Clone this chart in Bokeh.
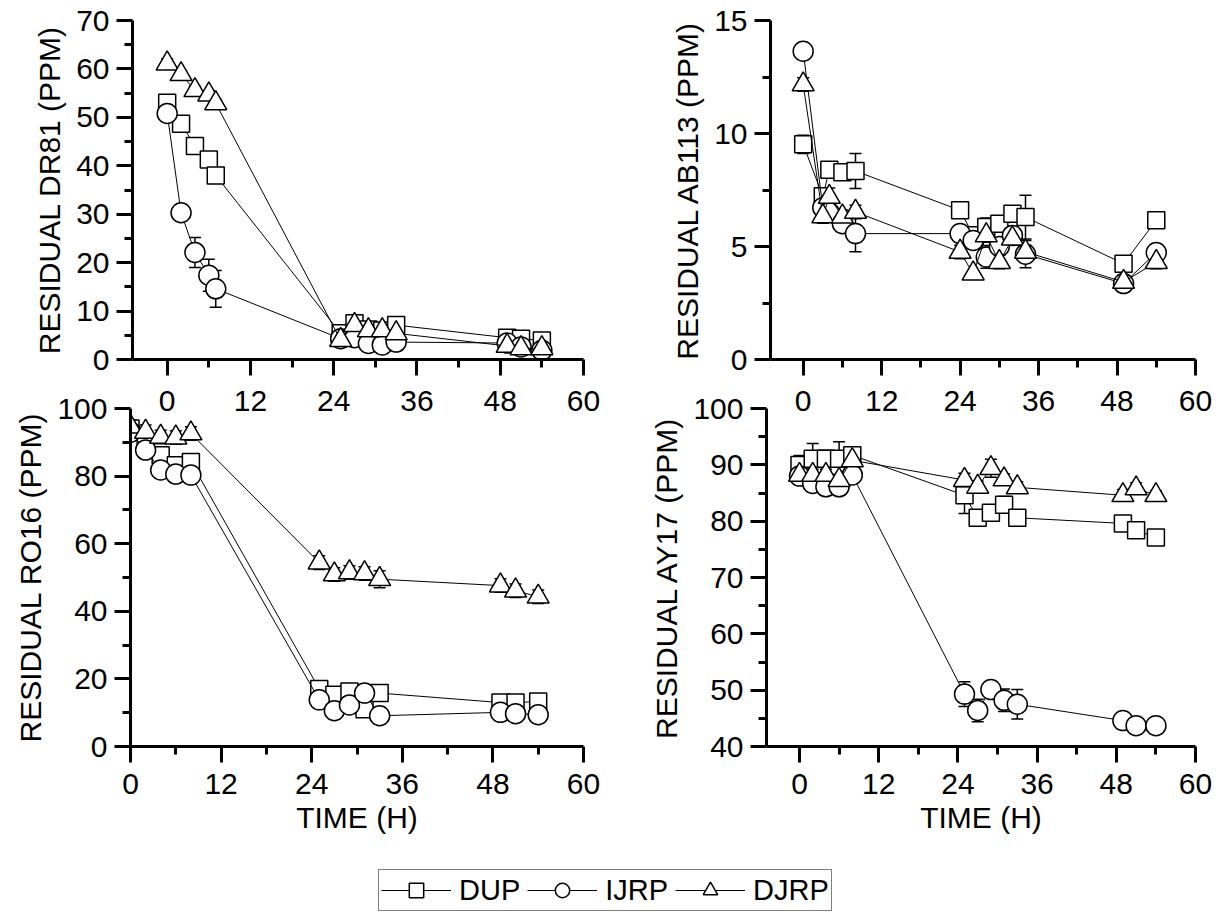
from bokeh.plotting import figure
from bokeh.models import (ColumnDataSource, Whisker, TeeHead, Legend, LegendItem,
                          FixedTicker, Range1d)
from bokeh.layouts import column, row
from bokeh.embed import file_html
from bokeh.resources import INLINE

# ---------------- data ----------------
series_names = ["DUP", "IJRP", "DJRP"]
series_markers = ["square", "circle", "triangle"]

x_ticks = [0, 12, 24, 36, 48, 60]
x_minor = [6, 18, 30, 42, 54]

# Panel 1: DR81
t_dr81 = [0, 2, 4, 6, 7, 25, 27, 29, 31, 33, 49, 51, 54]
dr81_dup = [53.0, 48.7, 44.1, 41.3, 38.0, 5.4, 7.5, 6.2, 6.0, 7.1, 4.5, 4.3, 3.9]
dr81_ijrp = [50.8, 30.3, 22.1, 17.4, 14.6, 4.3, 4.5, 3.3, 3.0, 3.6, 3.4, 2.6, 1.9]
dr81_djrp = [61.1, 58.9, 55.6, 54.7, 52.9, 4.0, 7.1, 6.0, 6.0, 5.4, 2.8, 2.3, 2.3]
dr81_dup_err = [0.9, 0.8, 0.8, 0.9, 0.8, 0.6, 0.6, 0.6, 0.6, 0.6, 0.6, 0.6, 0.6]
dr81_ijrp_err = [0.8, 1.0, 3.1, 3.3, 3.8, 0.6, 0.6, 0.6, 0.6, 0.6, 0.6, 0.6, 0.6]
dr81_djrp_err = [1.0, 0.8, 0.8, 0.8, 0.8, 0.6, 0.6, 0.6, 0.6, 0.6, 0.6, 0.6, 0.6]
dr81_yticks = [0, 10, 20, 30, 40, 50, 60, 70]
dr81_yminor = [5, 15, 25, 35, 45, 55, 65]

# Panel 2: AB113
t_ab113 = [0, 3, 4, 6, 8, 24, 26, 28, 30, 32, 34, 49, 54]
ab113_dup = [9.52, 7.22, 8.40, 8.29, 8.34, 6.60, 5.5, 5.86, 6.01, 6.45, 6.30, 4.24, 6.16]
ab113_ijrp = [13.64, 6.72, 6.5, 6.01, 5.57, 5.57, 5.27, 4.54, 5.0, 5.49, 4.66, 3.36, 4.73]
ab113_djrp = [12.17, 6.33, 7.19, 6.32, 6.53, 4.76, 3.80, 5.49, 4.31, 5.35, 4.76, 3.43, 4.31]
ab113_dup_err = [0.4, 0.35, 0.3, 0.3, 0.77, 0.2, 0.3, 0.4, 0.3, 0.3, 0.97, 0.3, 0.1]
ab113_ijrp_err = [0.1, 0.6, 0.3, 0.3, 0.8, 0.3, 0.3, 0.5, 0.3, 0.4, 0.6, 0.3, 0.1]
ab113_djrp_err = [0.3, 0.3, 0.4, 0.3, 0.3, 0.3, 0.1, 0.3, 0.3, 0.3, 0.3, 0.3, 0.3]
ab113_yticks = [0, 5, 10, 15]
ab113_yminor = [2.5, 7.5, 12.5]

# Panel 3: RO16
t_ro16 = [0, 2, 4, 6, 8, 25, 27, 29, 31, 33, 49, 51, 54]
ro16_dup = [94.1, 89.0, 86.2, 83.2, 84.2, 17.0, 15.3, 16.3, 11.0, 15.8, 13.0, 13.0, 13.3]
ro16_ijrp = [93.0, 87.7, 81.8, 80.6, 80.3, 13.8, 10.6, 12.3, 15.8, 9.1, 10.1, 9.7, 9.4]
ro16_djrp = [94.6, 93.1, 91.6, 91.4, 92.6, 54.4, 50.9, 51.5, 51.2, 49.5, 47.6, 46.1, 44.3]
ro16_dup_err = [2.0, 2.0, 2.0, 2.0, 2.0, 2.0, 2.0, 2.0, 2.0, 2.0, 2.0, 2.0, 2.0]
ro16_ijrp_err = [2.0, 2.0, 2.0, 2.0, 2.0, 2.0, 2.0, 2.0, 2.0, 2.0, 2.0, 2.0, 2.0]
ro16_djrp_err = [2.0, 2.0, 2.0, 2.0, 2.0, 2.0, 2.0, 2.0, 2.0, 2.5, 2.0, 2.0, 2.0]
ro16_yticks = [0, 20, 40, 60, 80, 100]
ro16_yminor = [10, 30, 50, 70, 90]

# Panel 4: AY17
t_ay17 = [0, 2, 4, 6, 8, 25, 27, 29, 31, 33, 49, 51, 54]
ay17_dup = [89.95, 91.1, 91.1, 91.1, 91.7, 84.6, 80.6, 81.5, 82.9, 80.6, 79.6, 78.4, 77.1]
ay17_ijrp = [88.0, 86.7, 86.1, 86.1, 88.2, 49.3, 46.4, 50.1, 48.2, 47.5, 44.6, 43.7, 43.7]
ay17_djrp = [88.2, 88.2, 88.2, 87.3, 90.8, 87.3, 86.1, 89.4, 87.4, 86.0, 84.6, 85.8, 84.6]
ay17_dup_err = [1.7, 2.7, 1.5, 3.0, 1.5, 3.25, 1.0, 1.0, 1.5, 1.0, 1.0, 1.0, 1.0]
ay17_ijrp_err = [1.0, 1.0, 1.0, 1.0, 1.0, 2.2, 2.0, 1.3, 2.0, 2.6, 0.8, 0.8, 0.8]
ay17_djrp_err = [1.0, 1.0, 1.0, 1.0, 1.5, 1.2, 1.0, 1.6, 1.0, 1.0, 1.0, 1.0, 0.8]
ay17_yticks = [40, 50, 60, 70, 80, 90, 100]
ay17_yminor = [45, 55, 65, 75, 85, 95]

# ---------------- style ----------------
FONT = "Liberation Sans"
TICK_FS = "30px"
TITLE_FS = "30px"
MARKER_SIZE = {"square": 17, "circle": 20, "triangle": 22}


def style_axis(ax, ticks, minor, label_standoff, title_standoff):
    ax.ticker = FixedTicker(ticks=ticks, minor_ticks=minor)
    ax.axis_line_width = 3
    ax.axis_line_color = "black"
    ax.major_tick_line_width = 3
    ax.minor_tick_line_width = 3
    ax.major_tick_line_color = "black"
    ax.minor_tick_line_color = "black"
    ax.major_tick_in = 0
    ax.major_tick_out = 16
    ax.minor_tick_in = 0
    ax.minor_tick_out = 8
    ax.major_label_text_font = FONT
    ax.major_label_text_font_size = TICK_FS
    ax.major_label_text_color = "black"
    ax.major_label_standoff = label_standoff
    ax.axis_label_text_font = FONT
    ax.axis_label_text_font_size = TITLE_FS
    ax.axis_label_text_font_style = "normal"
    ax.axis_label_text_color = "black"
    ax.axis_label_standoff = title_standoff


def make_panel(t, ys, es, x_start, y_range, yticks, yminor, ylabel, xlabel,
               fw, fh, borders, x_standoff, transparent=False):
    p = figure(frame_width=fw, frame_height=fh,
               x_range=Range1d(x_start, 60), y_range=Range1d(*y_range),
               output_backend="svg", toolbar_location=None,
               min_border_left=borders[0], min_border_right=borders[1],
               min_border_top=borders[2], min_border_bottom=borders[3])
    p.grid.visible = False
    p.outline_line_color = None
    if transparent:
        p.border_fill_alpha = 0
        p.background_fill_alpha = 0
    style_axis(p.xaxis[0], x_ticks, x_minor, x_standoff, 4)
    style_axis(p.yaxis[0], yticks, yminor, 7, 7)
    p.yaxis[0].axis_label = ylabel
    if xlabel:
        p.xaxis[0].axis_label = xlabel

    for y, e, m in zip(ys, es, series_markers):
        src = ColumnDataSource(dict(t=t, y=y,
                                    lo=[a - b for a, b in zip(y, e)],
                                    up=[a + b for a, b in zip(y, e)]))
        p.line("t", "y", source=src, line_color="black", line_width=1)
        p.scatter("t", "y", source=src, marker=m, size=MARKER_SIZE[m],
                  fill_color="white", line_color="black", line_width=1.5)
        w = Whisker(source=src, base="t", upper="up", lower="lo",
                    dimension="height", line_color="black", line_width=1.5,
                    upper_head=TeeHead(size=12, line_color="black", line_width=1.5),
                    lower_head=TeeHead(size=12, line_color="black", line_width=1.5))
        p.add_layout(w)
    return p


f1 = make_panel(t_dr81, [dr81_dup, dr81_ijrp, dr81_djrp],
                [dr81_dup_err, dr81_ijrp_err, dr81_djrp_err],
                -5, (0, 70), dr81_yticks, dr81_yminor,
                "RESIDUAL DR81 (PPM)", None, 451, 339, (132, 57, 20, 62), 15)
f2 = make_panel(t_ab113, [ab113_dup, ab113_ijrp, ab113_djrp],
                [ab113_dup_err, ab113_ijrp_err, ab113_djrp_err],
                -5, (0, 15), ab113_yticks, ab113_yminor,
                "RESIDUAL AB113 (PPM)", None, 425, 339, (130, 20, 20, 62), 15)
f3 = make_panel(t_ro16, [ro16_dup, ro16_ijrp, ro16_djrp],
                [ro16_dup_err, ro16_ijrp_err, ro16_djrp_err],
                0, (0, 100), ro16_yticks, ro16_yminor,
                "RESIDUAL RO16 (PPM)", "TIME (H)", 453, 338, (130, 57, 22, 105), 11,
                transparent=True)
f4 = make_panel(t_ay17, [ay17_dup, ay17_ijrp, ay17_djrp],
                [ay17_dup_err, ay17_ijrp_err, ay17_djrp_err],
                -5, (40, 100), ay17_yticks, ay17_yminor,
                "RESIDUAL AY17 (PPM)", "TIME (H)", 429, 338, (126, 20, 22, 105), 11,
                transparent=True)

# legend-only strip (renderers carry no visible points)
lf = figure(frame_width=1215, frame_height=66, min_border=0,
            x_range=Range1d(0, 1), y_range=Range1d(0, 1),
            x_axis_location=None, y_axis_location=None,
            output_backend="svg", toolbar_location=None)
lf.grid.visible = False
lf.outline_line_color = None
items = []
for name, m in zip(series_names, series_markers):
    src = ColumnDataSource(dict(x=[float("nan")], y=[float("nan")]))
    lr = lf.line("x", "y", source=src, line_color="black", line_width=1)
    sr = lf.scatter("x", "y", source=src, marker=m, size=MARKER_SIZE[m],
                    fill_color="white", line_color="black", line_width=1.5)
    items.append(LegendItem(label=name, renderers=[lr, sr]))
legend = Legend(items=items, orientation="horizontal", location=(378, 6),
                border_line_color="black", border_line_width=1.5,
                label_text_font=FONT, label_text_font_size="29px",
                label_text_color="black",
                glyph_width=70, glyph_height=36, label_height=36,
                label_standoff=8, spacing=7, padding=2, margin=0)
lf.add_layout(legend)

top = row(f1, f2)
bottom = row(f3, f4)
bottom.margin = (-35, 0, 0, 0)
layout = column(top, bottom, lf)

open("out.html", "w").write(file_html(layout, INLINE))
